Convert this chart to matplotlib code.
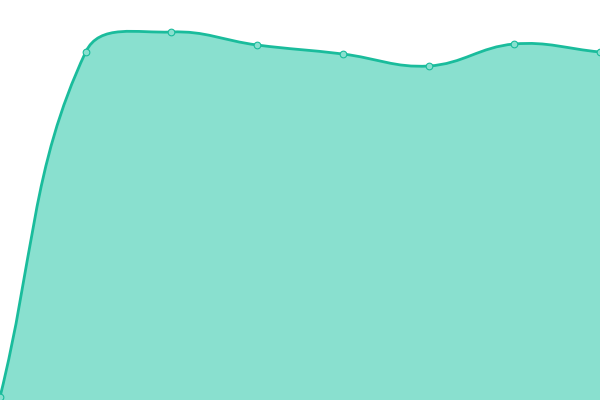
import numpy as np
import matplotlib
matplotlib.use("Agg")
import matplotlib.pyplot as plt
from matplotlib.path import Path
from matplotlib.patches import PathPatch

labels = ["A", "B", "C", "D", "E", "F", "G", "H"]
values = [3, 348, 368, 355, 346, 334, 356, 348]

LINE = "#1abc9c"
FILL = "#89e0cf"

fig = plt.figure(figsize=(6, 4), dpi=100)
ax = fig.add_axes([0, 0, 1, 1])
ax.set_xlim(0, len(values) - 1)
ax.set_ylim(0, 400)
ax.axis("off")

x = np.arange(len(values))
pts = ax.transData.transform(np.column_stack([x, values]))

tension = 0.4
n = len(pts)
cps_prev = []
cps_next = []
for i in range(n):
    p0 = pts[i - 1] if i > 0 else pts[i]
    p1 = pts[i]
    p2 = pts[i + 1] if i < n - 1 else pts[i]
    d01 = np.hypot(*(p1 - p0))
    d12 = np.hypot(*(p2 - p1))
    tot = d01 + d12
    s01 = d01 / tot if tot else 0
    s12 = d12 / tot if tot else 0
    fa = tension * s01
    fb = tension * s12
    cp1 = p1 - fa * (p2 - p0)
    cp2 = p1 + fb * (p2 - p0)
    cp1[1] = np.clip(cp1[1], 0, 400)
    cp2[1] = np.clip(cp2[1], 0, 400)
    cps_prev.append(cp1)
    cps_next.append(cp2)

verts = [pts[0]]
codes = [Path.MOVETO]
for i in range(n - 1):
    verts += [cps_next[i], cps_prev[i + 1], pts[i + 1]]
    codes += [Path.CURVE4] * 3
inv = ax.transData.inverted()
dverts = inv.transform(np.array(verts))

line_path = Path(dverts, codes)
fill_verts = list(dverts) + [(x[-1], 0), (x[0], 0), dverts[0]]
fill_codes = codes + [Path.LINETO, Path.LINETO, Path.CLOSEPOLY]
ax.add_patch(PathPatch(Path(fill_verts, fill_codes), facecolor=FILL, edgecolor="none"))
ax.add_patch(PathPatch(line_path, facecolor="none", edgecolor=LINE, linewidth=2.0))
ax.plot(x, values, linestyle="none", marker="o", markersize=4.8,
        markerfacecolor=FILL, markeredgecolor=LINE,
        markeredgewidth=0.8, clip_on=False, zorder=5)

fig.savefig("out.png", dpi=100)
